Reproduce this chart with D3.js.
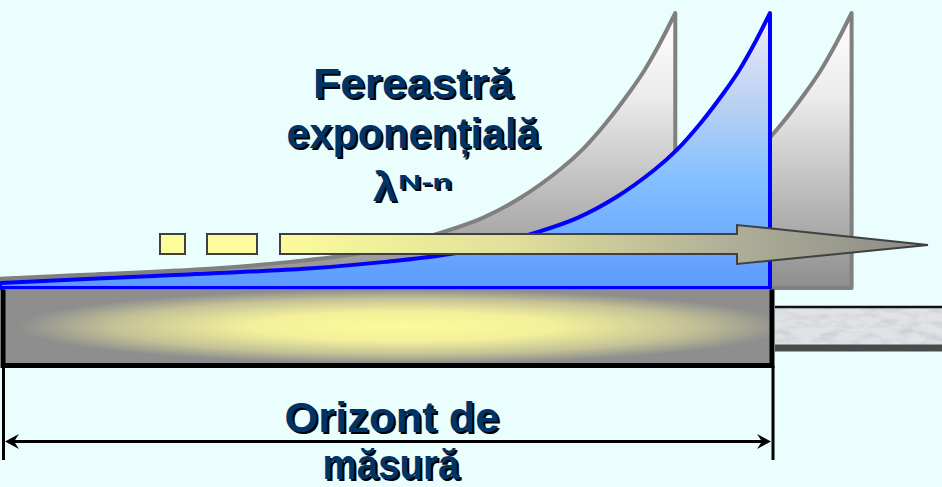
<!DOCTYPE html>
<html>
<head>
<meta charset="utf-8">
<script src="https://cdn.jsdelivr.net/npm/d3@7"></script>
<style>
  html, body { margin: 0; padding: 0; background: #ebfefe; }
  svg { display: block; }
</style>
</head>
<body>
<script>
// ---- data ----
// sample position inside the measuring horizon (% of horizon, 0 = oldest, 100 = newest)
const windowPos    = [0, 20, 40, 50, 60, 70, 75, 80, 85, 88, 91, 94, 96, 98, 100];
// exponential window weight lambda^(N-n), normalised to 1 at n = N
const windowWeight = [0.018, 0.044, 0.071, 0.095, 0.131, 0.205, 0.255, 0.33, 0.43, 0.505, 0.6, 0.71, 0.792, 0.89, 1.0];
// previous / next window positions (shift in % of horizon)
const windowShifts = [-12.3, 10.6];
const titleLines   = ["Fereastră", "exponențială"];
const lambdaBase   = "λ";
const lambdaExp    = "N-n";
const horizonLines = ["Orizont de", "măsură"];

// ---- layout ----
const W = 942, H = 487;
const svg = d3.select("body").append("svg").attr("width", W).attr("height", H);
svg.append("rect").attr("width", W).attr("height", H).attr("fill", "#ebfefe");

const x = d3.scaleLinear().domain([0, 100]).range([0, 770]);
const y = d3.scaleLinear().domain([0, 1]).range([288, 13]);

const defs = svg.append("defs");
function linGrad(id, x1, y1, x2, y2, stops) {
  const g = defs.append("linearGradient").attr("id", id)
    .attr("gradientUnits", "userSpaceOnUse")
    .attr("x1", x1).attr("y1", y1).attr("x2", x2).attr("y2", y2);
  stops.forEach(s => g.append("stop").attr("offset", s[0]).attr("stop-color", s[1]));
}
linGrad("grayGrad", 0, y(1), 0, y(0), [[0, "#ffffff"], [0.3, "#ececec"], [0.7, "#b6b6b6"], [1, "#8e8e8e"]]);
linGrad("blueGrad", 0, y(1), 0, y(0), [[0, "#f2eaf8"], [0.35, "#b6d0f2"], [0.6, "#84c0ff"], [1, "#5c9aff"]]);
linGrad("arrowGrad", 280, 0, 928, 0, [[0, "#fbfb9c"], [0.35, "#e2e09a"], [0.7, "#aeae98"], [1, "#8a8a86"]]);

const rg = defs.append("radialGradient").attr("id", "barGrad")
  .attr("cx", 0.52).attr("cy", 0.5).attr("r", 0.5);
[[0, "#fcfc9a"], [0.4, "#f2f09a"], [0.75, "#c4c296"], [1, "#8e8e8e"]]
  .forEach(s => rg.append("stop").attr("offset", s[0]).attr("stop-color", s[1]));

const filt = defs.append("filter").attr("id", "marble")
  .attr("x", 0).attr("y", 0).attr("width", "100%").attr("height", "100%");
filt.append("feTurbulence").attr("type", "fractalNoise")
  .attr("baseFrequency", "0.05 0.14").attr("numOctaves", 3).attr("seed", 7);
filt.append("feColorMatrix").attr("type", "matrix")
  .attr("values", "0 0 0 0 0.55  0 0 0 0 0.57  0 0 0 0 0.6  3 0 0 0 -1.3");

// ---- windows ----
const pts = windowPos.map((p, i) => [p, windowWeight[i]]);
function windowPath(shift) {
  const line = d3.line()
    .x(d => x(d[0] + shift))
    .y(d => y(d[1]))
    .curve(d3.curveCatmullRom.alpha(0.5));
  return line(pts) + `L${x(100 + shift)},${y(0)}L${x(0 + shift)},${y(0)}Z`;
}
svg.append("g").selectAll("path").data(windowShifts).join("path")
  .attr("d", d => windowPath(d))
  .attr("fill", "url(#grayGrad)")
  .attr("stroke", "#808080").attr("stroke-width", 4)
  .attr("stroke-linejoin", "round");

svg.append("path")
  .attr("d", windowPath(0))
  .attr("fill", "url(#blueGrad)")
  .attr("stroke", "#0000ff").attr("stroke-width", 4)
  .attr("stroke-linejoin", "round");

// ---- measuring horizon bar ----
svg.append("rect").attr("x", 3).attr("y", 289.5).attr("width", 769).attr("height", 74)
  .attr("fill", "url(#barGrad)").attr("stroke", "#808080").attr("stroke-width", 1);
svg.append("path").attr("d", "M3,289.5V365.5H772V289.5")
  .attr("fill", "none").attr("stroke", "#000").attr("stroke-width", 5);

// textured strip beyond the horizon
svg.append("rect").attr("x", 775).attr("y", 307).attr("width", 170).attr("height", 38)
  .attr("fill", "#e0e3e6");
svg.append("rect").attr("x", 775).attr("y", 307).attr("width", 170).attr("height", 38)
  .attr("filter", "url(#marble)").attr("opacity", 0.6);
svg.append("line").attr("x1", 775).attr("x2", W).attr("y1", 307).attr("y2", 307)
  .attr("stroke", "#111").attr("stroke-width", 2.5);
svg.append("line").attr("x1", 775).attr("x2", W).attr("y1", 348).attr("y2", 348)
  .attr("stroke", "#4a4a4a").attr("stroke-width", 7);

// ---- sliding arrow ----
const ay0 = 234, ay1 = 254;
[[160, 185], [207, 257]].forEach(b => {
  svg.append("rect").attr("x", b[0]).attr("y", ay0).attr("width", b[1] - b[0]).attr("height", ay1 - ay0)
    .attr("fill", "#fcfc9c").attr("stroke", "#404040").attr("stroke-width", 2);
});
svg.append("path")
  .attr("d", `M280,${ay0}H737V225L928,245L737,264V${ay1}H280Z`)
  .attr("fill", "url(#arrowGrad)").attr("stroke", "#404040").attr("stroke-width", 2)
  .attr("stroke-linejoin", "miter");

// ---- text ----
function shadowText(str, cx, by, size, len) {
  const g = svg.append("g")
    .attr("font-family", "'Liberation Sans', Arial, sans-serif")
    .attr("font-weight", "bold").attr("font-size", size).attr("text-anchor", "middle");
  [["#000", 2, 2], ["#003366", 0, 0]].forEach(s => {
    const t = g.append("text").attr("x", cx + s[1]).attr("y", by + s[2]).attr("fill", s[0]).text(str);
    if (len) t.attr("textLength", len).attr("lengthAdjust", "spacingAndGlyphs");
  });
  return g;
}
shadowText(titleLines[0], 413, 98, 42, 200);
shadowText(titleLines[1], 413, 148, 42, 253);
shadowText(lambdaBase, 385, 201, 40, 24);
shadowText(lambdaExp, 425, 189, 21, 54);

shadowText(horizonLines[0], 392, 432, 42, 215);
shadowText(horizonLines[1], 391, 479, 42, 137);

// ---- dimension line ----
const dy = 441.5;
svg.append("line").attr("x1", 3.5).attr("x2", 3.5).attr("y1", 366).attr("y2", 460)
  .attr("stroke", "#000").attr("stroke-width", 3);
svg.append("line").attr("x1", 773).attr("x2", 773).attr("y1", 366).attr("y2", 460)
  .attr("stroke", "#000").attr("stroke-width", 3);
svg.append("line").attr("x1", 8).attr("x2", 768).attr("y1", dy).attr("y2", dy)
  .attr("stroke", "#000").attr("stroke-width", 3);
svg.append("path").attr("d", `M5,${dy}L19,${dy - 7.5}L14,${dy}L19,${dy + 7.5}Z`).attr("fill", "#000");
svg.append("path").attr("d", `M771,${dy}L757,${dy - 7.5}L762,${dy}L757,${dy + 7.5}Z`).attr("fill", "#000");
</script>
</body>
</html>
